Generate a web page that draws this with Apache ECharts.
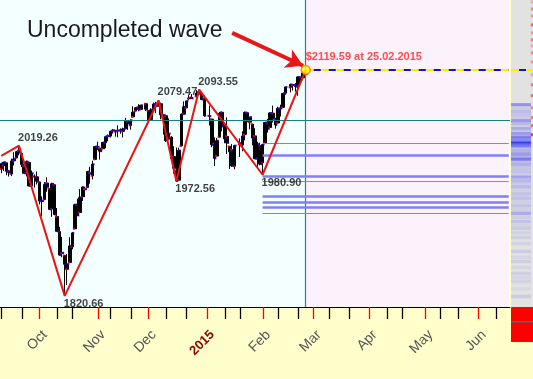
<!DOCTYPE html>
<html><head><meta charset="utf-8">
<script src="https://cdn.jsdelivr.net/npm/echarts@6/dist/echarts.min.js"></script>
<style>html,body{margin:0;padding:0;background:#FFFFCC}#c{width:533px;height:379px}</style>
</head><body><div id="c"></div>
<script>
// ---- calendar of the time axis (weekdays) ----
const axisStart = '2014-09-10';
const axisCount = 201;
const monthNames = ['Jan','Feb','Mar','Apr','May','Jun','Jul','Aug','Sep','Oct','Nov','Dec'];

// ---- S&P 500 daily bars ----
const dates = [
'2014-09-10','2014-09-11','2014-09-12','2014-09-15','2014-09-16','2014-09-17','2014-09-18','2014-09-19','2014-09-22','2014-09-23','2014-09-24','2014-09-25','2014-09-26','2014-09-29','2014-09-30',
'2014-10-01','2014-10-02','2014-10-03','2014-10-06','2014-10-07','2014-10-08','2014-10-09','2014-10-10','2014-10-13','2014-10-14','2014-10-15','2014-10-16','2014-10-17','2014-10-20','2014-10-21','2014-10-22','2014-10-23','2014-10-24','2014-10-27','2014-10-28','2014-10-29','2014-10-30','2014-10-31',
'2014-11-03','2014-11-04','2014-11-05','2014-11-06','2014-11-07','2014-11-10','2014-11-11','2014-11-12','2014-11-13','2014-11-14','2014-11-17','2014-11-18','2014-11-19','2014-11-20','2014-11-21','2014-11-24','2014-11-25','2014-11-26','2014-11-28',
'2014-12-01','2014-12-02','2014-12-03','2014-12-04','2014-12-05','2014-12-08','2014-12-09','2014-12-10','2014-12-11','2014-12-12','2014-12-15','2014-12-16','2014-12-17','2014-12-18','2014-12-19','2014-12-22','2014-12-23','2014-12-24','2014-12-26','2014-12-29','2014-12-30','2014-12-31',
'2015-01-02','2015-01-05','2015-01-06','2015-01-07','2015-01-08','2015-01-09','2015-01-12','2015-01-13','2015-01-14','2015-01-15','2015-01-16','2015-01-20','2015-01-21','2015-01-22','2015-01-23','2015-01-26','2015-01-27','2015-01-28','2015-01-29','2015-01-30',
'2015-02-02','2015-02-03','2015-02-04','2015-02-05','2015-02-06','2015-02-09','2015-02-10','2015-02-11','2015-02-12','2015-02-13','2015-02-17','2015-02-18','2015-02-19','2015-02-20','2015-02-23','2015-02-24','2015-02-25'];
const opens = [
1988.4,1992.9,1996.7,1986.0,1981.9,1999.3,2003.1,2012.7,2009.1,1992.8,1983.3,1997.3,1966.2,1978.9,1978.2,
1971.4,1945.8,1948.1,1970.0,1962.4,1935.6,1967.7,1925.6,1905.7,1877.1,1874.2,1855.9,1864.9,1885.6,1909.4,1941.3,1931.0,1951.6,1962.0,1964.1,1983.3,1979.5,2001.2,
2018.2,2015.8,2015.3,2023.3,2032.0,2032.0,2039.1,2037.8,2039.2,2039.7,2038.3,2041.5,2051.2,2046.0,2057.5,2065.1,2070.2,2067.4,2074.8,
2065.8,2053.8,2067.5,2073.6,2072.8,2074.8,2056.6,2058.9,2027.9,2030.4,2005.0,1986.7,1973.8,2018.9,2061.0,2069.3,2081.5,2083.3,2084.3,2087.6,2088.5,2082.1,
2058.9,2054.4,2022.2,2005.6,2030.6,2063.5,2046.1,2031.6,2018.4,2013.8,1992.3,2020.8,2020.2,2034.3,2062.9,2050.4,2047.9,2032.3,2002.5,2019.4,
1996.7,2022.7,2048.9,2043.5,2062.3,2053.5,2049.4,2068.6,2070.0,2088.8,2096.5,2099.2,2099.3,2097.7,2109.8,2109.1,2115.3];
const highs = [
1996.7,1997.7,1996.7,1987.2,2002.3,2010.7,2012.3,2019.3,2009.1,1995.4,1999.8,1997.3,1986.4,1981.3,1985.2,
1971.4,1952.3,1971.2,1977.4,1962.4,1970.4,1967.7,1936.9,1912.1,1898.7,1874.2,1876.0,1898.2,1905.0,1942.5,1949.3,1961.9,1965.3,1964.6,1985.1,1991.4,1999.4,2018.2,
2024.5,2015.9,2023.8,2031.6,2034.3,2038.7,2041.3,2040.3,2046.2,2042.2,2043.1,2056.1,2052.1,2054.3,2071.5,2070.2,2074.2,2073.3,2075.8,
2065.8,2068.8,2076.3,2077.3,2079.5,2075.8,2060.6,2058.9,2055.5,2032.0,2018.7,2016.9,2016.8,2061.2,2077.9,2078.8,2086.7,2087.6,2092.7,2093.6,2088.5,2085.6,
2072.4,2054.4,2030.3,2029.6,2064.1,2064.4,2049.3,2056.9,2018.4,2021.4,2020.5,2028.9,2038.3,2064.6,2062.9,2057.6,2047.9,2042.5,2024.6,2023.3,
2021.7,2050.3,2054.7,2063.6,2072.4,2056.2,2070.9,2073.5,2088.5,2097.0,2101.3,2100.2,2102.1,2110.6,2110.1,2117.9,2119.6];
const lows = [
1983.0,1985.9,1980.3,1978.5,1979.1,1993.3,2003.1,2006.6,1991.0,1982.8,1978.6,1965.9,1966.2,1964.0,1968.0,
1941.7,1926.0,1948.1,1958.4,1935.1,1925.3,1927.6,1906.1,1874.1,1871.8,1820.7,1835.0,1864.9,1882.3,1909.4,1926.8,1931.0,1946.3,1951.4,1964.1,1969.0,1974.8,2001.2,
2013.7,2001.0,2015.3,2015.9,2025.1,2030.2,2035.3,2031.3,2030.4,2035.2,2030.2,2041.5,2040.4,2040.5,2056.8,2065.1,2064.8,2066.4,2065.1,
2049.6,2053.8,2066.6,2062.3,2070.8,2054.3,2034.2,2024.3,2027.9,2002.3,1982.3,1972.6,1973.8,2018.9,2061.0,2069.3,2079.8,2081.9,2084.3,2085.8,2079.5,2057.9,
2046.0,2017.3,1992.4,2005.6,2030.6,2038.3,2022.6,2008.3,1988.4,1991.5,1988.1,2004.5,2012.0,2026.4,2050.5,2041.0,2019.9,2001.5,1989.2,1993.4,
1980.9,2022.7,2036.7,2043.5,2050.0,2041.9,2048.6,2058.0,2070.0,2086.7,2089.8,2092.2,2090.8,2085.4,2103.0,2105.9,2111.2];
const closes = [
1995.7,1997.5,1985.5,1984.1,1999.0,2001.6,2011.4,2010.4,1994.3,1982.8,1998.3,1966.0,1982.9,1977.8,1972.3,
1946.2,1946.2,1967.9,1964.8,1935.1,1968.9,1928.2,1906.1,1874.7,1877.7,1862.5,1862.8,1886.8,1904.0,1941.3,1927.1,1950.8,1964.6,1961.6,1985.1,1982.3,1994.7,2018.1,
2017.8,2012.1,2023.6,2031.2,2031.9,2038.3,2039.7,2038.3,2039.3,2039.8,2041.3,2051.8,2048.7,2052.8,2063.5,2069.4,2067.0,2072.8,2067.6,
2053.4,2066.6,2074.3,2071.9,2075.4,2060.3,2059.8,2026.1,2035.3,2002.3,1989.6,1972.7,2012.9,2061.2,2070.7,2078.5,2082.2,2081.9,2088.8,2090.6,2080.4,2058.9,
2058.2,2020.6,2002.6,2025.9,2062.1,2044.8,2028.3,2023.0,2011.3,1992.7,2019.4,2022.6,2032.1,2063.2,2051.8,2057.1,2029.6,2002.2,2021.3,1995.0,
2020.9,2050.0,2041.5,2062.5,2055.5,2046.7,2068.6,2068.5,2088.5,2097.0,2100.3,2099.7,2097.5,2110.3,2109.7,2115.5,2113.9];

// ---- wave pivots ----
const pivotDates  = ['2014-09-10','2014-09-19','2014-10-15','2014-12-05','2014-12-16','2014-12-29','2015-02-02','2015-02-25'];
const pivotValues = [2006, 2019.26, 1820.66, 2079.47, 1972.56, 2093.55, 1980.90, 2119.59];
const pivotKinds  = ['start','high','low','high','low','high','low','last'];

// ---- horizontal levels ----
const pivotLevel = 2052.5;
const supportStart = '2015-02-02';
const supportLevels = [2022.6, 2006.2, 1978.5, 1972.4, 1952.0, 1945.0, 1937.5, 1930.0];
const supportHeavy  = [false, true, true, false, true, true, true, false];

// ---- arrow annotation (data coords) ----
const arrowFrom = ['2015-01-15', 2168.5];
const arrowTo   = ['2015-02-24', 2125.0];

// ---- right-hand price-density strip ----
const stripPrices  = [2073.3,2069.5,2064.7,2060.1,2056.0,2052.1,2048.2,2042.2,2038.5,2034.9,2031.6,2029.6,2027.0,2024.7,2022.4,2020.2,2018.4,2015.0,2011.8,2007.8,2004.5,2001.2,1997.5,1993.9,1989.5,1985.3,1981.0,1977.4,1974.5,1972.1,1968.5,1964.8,1960.0,1955.6,1952.0,1949.0,1944.0,1939.7,1934.5,1929.8,1924.5,1919.2,1914.5,1909.9,1904.0,1898.0,1890.0,1879.5,1872.0,1866.3,1858.0,1850.4,1845.0,1839.8,1830.0,1820.0];
const stripWeights = [0.5,0.15,0.25,0.2,0.15,0.45,0.25,0.35,0.2,0.45,0.3,0.6,0.45,0.5,1.0,0.6,0.55,0.25,0.3,0.45,0.3,0.65,0.25,0.3,0.18,0.2,0.15,0.4,0.2,0.25,0.15,0.25,0.12,0.2,0.15,0.2,0.12,0.2,0.12,0.35,0.12,0.2,0.1,0.15,0.1,0.12,0.1,0.15,0.08,0.12,0.08,0.12,0.08,0.1,0.06,0.15];
const redPrices  = [2209.4,2200.1,2190.9,2179.0,2168.4,2159.2,2151.3,2142.0,2130.2,2113.0,2099.8,2085.3,2069.4,2056.2,2045.7,2033.8];
const redWeights = [0.3,0.5,0.4,0.7,0.4,0.6,0.3,0.5,0.4,0.3,0.6,0.7,0.5,0.6,0.7,1.0];

// ---------------------------------------------------------------
function fmt(d){return d.getUTCFullYear()+'-'+String(d.getUTCMonth()+1).padStart(2,'0')+'-'+String(d.getUTCDate()).padStart(2,'0');}
const cats = [];
(function(){
  let d = new Date(axisStart+'T00:00:00Z');
  while (cats.length < axisCount){
    const w = d.getUTCDay();
    if (w !== 0 && w !== 6) cats.push(fmt(d));
    d = new Date(d.getTime()+86400000);
  }
})();
const lastCat = cats[cats.length-1];
const monthOf = i => cats[i].slice(5,7);
const dayOf = i => +cats[i].slice(8,10);
const isMonthStart = i => i>0 && monthOf(i)!==monthOf(i-1);
const isThird = i => {
  const d = dayOf(i);
  if (i===0) return d===10 || d===20;
  if (isMonthStart(i)) return false;
  const p = dayOf(i-1);
  return (d>=10 && p<10) || (d>=20 && p<20);
};
// tick marks: [category index, kind] with kind 1 = month start (red), 0 = 10th/20th (black)
const tickData = [];
cats.forEach((c,i)=>{ if (isMonthStart(i)) tickData.push([i,1]); else if (isThird(i)) tickData.push([i,0]); });

const idx = {}; dates.forEach((d,i)=>idx[d]=i);
const candleData = cats.map(c => (c in idx) ? [opens[idx[c]], closes[idx[c]], lows[idx[c]], highs[idx[c]]] : '-');

function mix(a,b,t){
  const pa=[parseInt(a.slice(1,3),16),parseInt(a.slice(3,5),16),parseInt(a.slice(5,7),16)];
  const pb=[parseInt(b.slice(1,3),16),parseInt(b.slice(3,5),16),parseInt(b.slice(5,7),16)];
  return 'rgb('+pa.map((v,k)=>Math.round(v+(pb[k]-v)*t)).join(',')+')';
}

const labelBase = {fontFamily:'Arial', fontSize:11, fontWeight:'bold', color:'#111', align:'left', offset:[-1,0], distance:2};
const pivotItems = [];
pivotDates.forEach((d,i)=>{
  const k = pivotKinds[i];
  if (k==='start') return;
  if (k==='last'){
    pivotItems.push({value:[d,pivotValues[i]], symbol:'circle', symbolSize:9,
      itemStyle:{color:'#FFFF00', borderColor:'#FF7000', borderWidth:1.5},
      label:Object.assign({}, labelBase, {show:true, position:'top', color:'#FF2020', offset:[0,0],
        formatter: p => '$'+p.value[1].toFixed(2)+' at '+d.slice(8,10)+'.'+d.slice(5,7)+'.'+d.slice(0,4)})});
  } else {
    pivotItems.push({value:[d,pivotValues[i]], symbol:'circle', symbolSize:1,
      itemStyle:{color:'rgba(0,0,0,0)'},
      label:Object.assign({}, labelBase, {show:true, position: k==='high'?'top':'bottom',
        formatter: p => p.value[1].toFixed(2)})});
  }
});

const supportLines = supportLevels.map((v,i)=>[
  {coord:[supportStart, v], lineStyle:{color:'#8080F0', width: supportHeavy[i]?2.5:1.2, type:'solid'}},
  {coord:[lastCat, v]}
]);

const option = {
  animation:false,
  backgroundColor:'#FFFFCC',
  title:{text:'Uncompleted wave', left:22, top:14,
    textStyle:{fontFamily:'Arial', fontSize:23, fontWeight:'normal', color:'#1a1a1a'}},
  grid:[
    {left:0, right:23, top:0, bottom:72, show:true, backgroundColor:'#F4FFFF', borderWidth:0},
    {left:511, right:0, top:0, bottom:72, show:true, backgroundColor:'#E2E2E2', borderWidth:0}
  ],
  xAxis:[
    {type:'category', gridIndex:0, data:cats, boundaryGap:true,
     axisLine:{show:true, lineStyle:{color:'#000', width:1}},
     axisTick:{show:false},
     axisLabel:{interval:(i)=>isMonthStart(i), rotate:45, margin:20,
       fontFamily:'Arial', fontSize:14, color:'#555',
       formatter:(v)=>{const m=+v.slice(5,7)-1; return m===0 ? '{y|'+v.slice(0,4)+'}' : '{m|'+monthNames[m]+'}';},
       rich:{m:{fontFamily:'Arial', fontSize:14, color:'#555', padding:[16,0,0,0]},
             y:{fontFamily:'Arial', fontSize:13, fontWeight:'bold', color:'#8B0000', padding:[16,0,0,0]}}},
     splitLine:{show:false}},
    {type:'value', gridIndex:1, min:0, max:1, show:false}
  ],
  yAxis:[
    {type:'value', gridIndex:0, min:1806, max:2212, show:false},
    {type:'value', gridIndex:1, min:1806, max:2212,
     axisLine:{show:true, lineStyle:{color:'#EEEE90', width:1}}, axisTick:{show:false},
     axisLabel:{show:false}, splitLine:{show:false}}
  ],
  series:[
    {type:'candlestick', name:'S&P 500', xAxisIndex:0, yAxisIndex:0, data:candleData, barWidth:3,
     itemStyle:{color:'#000', color0:'#000', borderColor:'#000', borderColor0:'#000', borderWidth:1},
     markArea:{silent:true, itemStyle:{color:'#FCF2FC'}, data:[[{xAxis:'2015-02-25'},{xAxis:lastCat}]]},
     markLine:{silent:true, symbol:['none','none'], label:{show:false},
       data:[
         {yAxis:pivotLevel, lineStyle:{color:'#1A8080', width:1, type:'solid'}},
         {xAxis:'2015-02-25', lineStyle:{color:'#1A8A8A', width:1.2, type:'solid'}},
       ].concat(supportLines).concat([
         [{coord:['2015-02-25',2119.59], lineStyle:{color:'#1010E0', width:2, type:'solid'}},{coord:[lastCat,2119.59]}],
         [{coord:['2015-02-25',2119.59], lineStyle:{color:'#FFEE00', width:2, type:[8,7]}},{coord:[lastCat,2119.59]}]
       ])}
    },
    {type:'scatter', name:'open', xAxisIndex:0, yAxisIndex:0, symbol:'rect', symbolSize:2, symbolOffset:[-1,0],
     itemStyle:{color:'#FF0000'}, data:dates.map((d,i)=>[d,opens[i]]), silent:true},
    {type:'scatter', name:'close', xAxisIndex:0, yAxisIndex:0, symbol:'rect', symbolSize:2, symbolOffset:[1,0],
     itemStyle:{color:'#0000FF'}, data:dates.map((d,i)=>[d,closes[i]]), silent:true},
    {type:'line', name:'wave', xAxisIndex:0, yAxisIndex:0, symbol:'none', z:5,
     lineStyle:{color:'#EE1111', width:2}, data:pivotDates.map((d,i)=>[d,pivotValues[i]]),
     markLine:{silent:true, label:{show:false},
       data:[[{coord:arrowFrom, symbol:'none', lineStyle:{color:'#E81818', width:4, type:'solid'}},
              {coord:arrowTo, symbol:'arrow', symbolSize:[15,17]}]]}},
    {type:'scatter', name:'pivots', xAxisIndex:0, yAxisIndex:0, z:6, data:pivotItems},
    {type:'custom', name:'ticks', xAxisIndex:0, yAxisIndex:0, clip:false, z:10, zlevel:1,
     data:tickData,
     renderItem:(params, api)=>{
       const x = Math.round(api.coord([api.value(0), 1900])[0]) + 0.5;
       const y0 = params.coordSys.y + params.coordSys.height;
       return {type:'line', shape:{x1:x, y1:y0, x2:x, y2:y0+12},
               style:{stroke: api.value(1)===1 ? '#FF0000' : '#000000', lineWidth:1.3}};
     }},
    {type:'scatter', name:'density', xAxisIndex:1, yAxisIndex:1, symbol:'rect', symbolSize:[20,3.5], silent:true,
     data:stripPrices.map((p,i)=>({value:[0.455,p], itemStyle:{color:mix('#E2E2E2','#1E1EFF',stripWeights[i])}})),
     markLine:{silent:true, symbol:['none','none'], label:{show:false},
       data:[{yAxis:2119.59, lineStyle:{color:'#1010E0', width:2, type:'solid'}},
             {yAxis:2119.59, lineStyle:{color:'#FFEE00', width:2, type:[8,7]}}]}},
    {type:'scatter', name:'redDensity', xAxisIndex:1, yAxisIndex:1, symbol:'rect', symbolSize:[2.5,3], silent:true,
     data:redPrices.map((p,i)=>({value:[0.955,p], itemStyle:{color:mix('#F6D6D6','#FF1010',redWeights[i])}}))}
  ],
  graphic:[
    {type:'rect', shape:{x:511, y:307, width:22, height:35}, style:{fill:'#FF0000'}, silent:true},
    {type:'rect', shape:{x:511, y:321, width:22, height:1.5}, style:{fill:'#1A8080'}, silent:true}
  ]
};
const chart = echarts.init(document.getElementById('c'), null, {renderer:'canvas'});
chart.setOption(option);
</script>
</body></html>
